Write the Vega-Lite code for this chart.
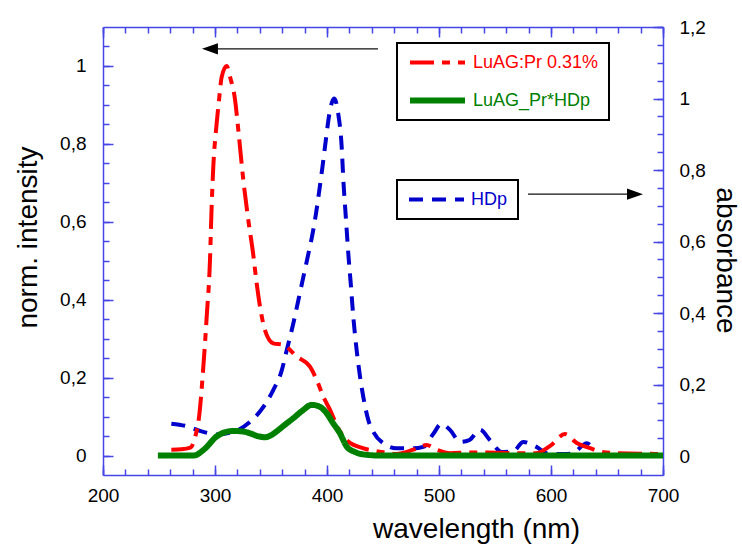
{
  "$schema": "https://vega.github.io/schema/vega-lite/v6.json",
  "width": 560,
  "height": 448,
  "autosize": "none",
  "padding": {"left": 103, "top": 27, "right": 79, "bottom": 69},
  "background": "white",
  "config": {
    "view": {"stroke": null},
    "font": "Liberation Sans",
    "axis": {
      "grid": false,
      "domainColor": "#4646e6",
      "tickColor": "#4646e6",
      "domainWidth": 1.5,
      "tickWidth": 1.5,
      "labelFont": "Liberation Sans",
      "labelFontSize": 19,
      "labelColor": "#000000",
      "titleFont": "Liberation Sans",
      "titleFontSize": 28,
      "titleFontWeight": "normal",
      "titleColor": "#000000",
      "labelOverlap": false,
      "labelFlush": false
    }
  },
  "datasets": {
    "emission": [
      {"wavelength": 261, "intensity": 0.015, "sample": "LuAG:Pr 0.31%"},
      {"wavelength": 270, "intensity": 0.016, "sample": "LuAG:Pr 0.31%"},
      {"wavelength": 278, "intensity": 0.02, "sample": "LuAG:Pr 0.31%"},
      {"wavelength": 282, "intensity": 0.045, "sample": "LuAG:Pr 0.31%"},
      {"wavelength": 286, "intensity": 0.105, "sample": "LuAG:Pr 0.31%"},
      {"wavelength": 289.6, "intensity": 0.228, "sample": "LuAG:Pr 0.31%"},
      {"wavelength": 292.6, "intensity": 0.357, "sample": "LuAG:Pr 0.31%"},
      {"wavelength": 295.5, "intensity": 0.5, "sample": "LuAG:Pr 0.31%"},
      {"wavelength": 297, "intensity": 0.639, "sample": "LuAG:Pr 0.31%"},
      {"wavelength": 298.5, "intensity": 0.742, "sample": "LuAG:Pr 0.31%"},
      {"wavelength": 301.5, "intensity": 0.853, "sample": "LuAG:Pr 0.31%"},
      {"wavelength": 303.6, "intensity": 0.913, "sample": "LuAG:Pr 0.31%"},
      {"wavelength": 306, "intensity": 0.972, "sample": "LuAG:Pr 0.31%"},
      {"wavelength": 310.4, "intensity": 1.0, "sample": "LuAG:Pr 0.31%"},
      {"wavelength": 313.4, "intensity": 0.972, "sample": "LuAG:Pr 0.31%"},
      {"wavelength": 317.9, "intensity": 0.913, "sample": "LuAG:Pr 0.31%"},
      {"wavelength": 320.8, "intensity": 0.836, "sample": "LuAG:Pr 0.31%"},
      {"wavelength": 325.3, "intensity": 0.707, "sample": "LuAG:Pr 0.31%"},
      {"wavelength": 329.7, "intensity": 0.605, "sample": "LuAG:Pr 0.31%"},
      {"wavelength": 334, "intensity": 0.519, "sample": "LuAG:Pr 0.31%"},
      {"wavelength": 337.2, "intensity": 0.442, "sample": "LuAG:Pr 0.31%"},
      {"wavelength": 340.2, "intensity": 0.382, "sample": "LuAG:Pr 0.31%"},
      {"wavelength": 344.6, "intensity": 0.322, "sample": "LuAG:Pr 0.31%"},
      {"wavelength": 352, "intensity": 0.288, "sample": "LuAG:Pr 0.31%"},
      {"wavelength": 361, "intensity": 0.284, "sample": "LuAG:Pr 0.31%"},
      {"wavelength": 373, "intensity": 0.254, "sample": "LuAG:Pr 0.31%"},
      {"wavelength": 384.8, "intensity": 0.228, "sample": "LuAG:Pr 0.31%"},
      {"wavelength": 390.8, "intensity": 0.194, "sample": "LuAG:Pr 0.31%"},
      {"wavelength": 396.7, "intensity": 0.151, "sample": "LuAG:Pr 0.31%"},
      {"wavelength": 402.7, "intensity": 0.117, "sample": "LuAG:Pr 0.31%"},
      {"wavelength": 410, "intensity": 0.07, "sample": "LuAG:Pr 0.31%"},
      {"wavelength": 419, "intensity": 0.036, "sample": "LuAG:Pr 0.31%"},
      {"wavelength": 432, "intensity": 0.019, "sample": "LuAG:Pr 0.31%"},
      {"wavelength": 447, "intensity": 0.01, "sample": "LuAG:Pr 0.31%"},
      {"wavelength": 462, "intensity": 0.004, "sample": "LuAG:Pr 0.31%"},
      {"wavelength": 477, "intensity": 0.015, "sample": "LuAG:Pr 0.31%"},
      {"wavelength": 489, "intensity": 0.027, "sample": "LuAG:Pr 0.31%"},
      {"wavelength": 498, "intensity": 0.015, "sample": "LuAG:Pr 0.31%"},
      {"wavelength": 510, "intensity": 0.006, "sample": "LuAG:Pr 0.31%"},
      {"wavelength": 528, "intensity": 0.008, "sample": "LuAG:Pr 0.31%"},
      {"wavelength": 543, "intensity": 0.008, "sample": "LuAG:Pr 0.31%"},
      {"wavelength": 569, "intensity": 0.006, "sample": "LuAG:Pr 0.31%"},
      {"wavelength": 587, "intensity": 0.006, "sample": "LuAG:Pr 0.31%"},
      {"wavelength": 599, "intensity": 0.024, "sample": "LuAG:Pr 0.31%"},
      {"wavelength": 612.5, "intensity": 0.055, "sample": "LuAG:Pr 0.31%"},
      {"wavelength": 623, "intensity": 0.032, "sample": "LuAG:Pr 0.31%"},
      {"wavelength": 635, "intensity": 0.019, "sample": "LuAG:Pr 0.31%"},
      {"wavelength": 644, "intensity": 0.01, "sample": "LuAG:Pr 0.31%"},
      {"wavelength": 659, "intensity": 0.006, "sample": "LuAG:Pr 0.31%"},
      {"wavelength": 700, "intensity": 0.004, "sample": "LuAG:Pr 0.31%"},
      {"wavelength": 249, "intensity": 0, "sample": "LuAG_Pr*HDp"},
      {"wavelength": 281, "intensity": 0, "sample": "LuAG_Pr*HDp"},
      {"wavelength": 290, "intensity": 0.015, "sample": "LuAG_Pr*HDp"},
      {"wavelength": 301.5, "intensity": 0.049, "sample": "LuAG_Pr*HDp"},
      {"wavelength": 309, "intensity": 0.06, "sample": "LuAG_Pr*HDp"},
      {"wavelength": 316.4, "intensity": 0.063, "sample": "LuAG_Pr*HDp"},
      {"wavelength": 324, "intensity": 0.062, "sample": "LuAG_Pr*HDp"},
      {"wavelength": 331.3, "intensity": 0.057, "sample": "LuAG_Pr*HDp"},
      {"wavelength": 338, "intensity": 0.05, "sample": "LuAG_Pr*HDp"},
      {"wavelength": 344.6, "intensity": 0.047, "sample": "LuAG_Pr*HDp"},
      {"wavelength": 350, "intensity": 0.052, "sample": "LuAG_Pr*HDp"},
      {"wavelength": 355, "intensity": 0.062, "sample": "LuAG_Pr*HDp"},
      {"wavelength": 362, "intensity": 0.078, "sample": "LuAG_Pr*HDp"},
      {"wavelength": 370, "intensity": 0.096, "sample": "LuAG_Pr*HDp"},
      {"wavelength": 378, "intensity": 0.115, "sample": "LuAG_Pr*HDp"},
      {"wavelength": 386.3, "intensity": 0.13, "sample": "LuAG_Pr*HDp"},
      {"wavelength": 393, "intensity": 0.126, "sample": "LuAG_Pr*HDp"},
      {"wavelength": 399.6, "intensity": 0.109, "sample": "LuAG_Pr*HDp"},
      {"wavelength": 405, "intensity": 0.085, "sample": "LuAG_Pr*HDp"},
      {"wavelength": 411.6, "intensity": 0.057, "sample": "LuAG_Pr*HDp"},
      {"wavelength": 417.6, "intensity": 0.023, "sample": "LuAG_Pr*HDp"},
      {"wavelength": 425, "intensity": 0.009, "sample": "LuAG_Pr*HDp"},
      {"wavelength": 432, "intensity": 0.003, "sample": "LuAG_Pr*HDp"},
      {"wavelength": 447, "intensity": 0, "sample": "LuAG_Pr*HDp"},
      {"wavelength": 700, "intensity": 0, "sample": "LuAG_Pr*HDp"}
    ],
    "absorption": [
      {"wavelength": 261, "absorbance": 0.091, "sample": "HDp"},
      {"wavelength": 274.7, "absorbance": 0.084, "sample": "HDp"},
      {"wavelength": 289.6, "absorbance": 0.068, "sample": "HDp"},
      {"wavelength": 301.5, "absorbance": 0.061, "sample": "HDp"},
      {"wavelength": 316.4, "absorbance": 0.068, "sample": "HDp"},
      {"wavelength": 331.3, "absorbance": 0.096, "sample": "HDp"},
      {"wavelength": 343.2, "absorbance": 0.138, "sample": "HDp"},
      {"wavelength": 352, "absorbance": 0.185, "sample": "HDp"},
      {"wavelength": 359.6, "absorbance": 0.24, "sample": "HDp"},
      {"wavelength": 364, "absorbance": 0.296, "sample": "HDp"},
      {"wavelength": 369.9, "absorbance": 0.371, "sample": "HDp"},
      {"wavelength": 374.4, "absorbance": 0.436, "sample": "HDp"},
      {"wavelength": 378.8, "absorbance": 0.5, "sample": "HDp"},
      {"wavelength": 383.3, "absorbance": 0.565, "sample": "HDp"},
      {"wavelength": 387, "absorbance": 0.62, "sample": "HDp"},
      {"wavelength": 390, "absorbance": 0.675, "sample": "HDp"},
      {"wavelength": 393, "absorbance": 0.74, "sample": "HDp"},
      {"wavelength": 396, "absorbance": 0.81, "sample": "HDp"},
      {"wavelength": 399, "absorbance": 0.885, "sample": "HDp"},
      {"wavelength": 402, "absorbance": 0.955, "sample": "HDp"},
      {"wavelength": 404.5, "absorbance": 0.99, "sample": "HDp"},
      {"wavelength": 406.5, "absorbance": 1.0, "sample": "HDp"},
      {"wavelength": 410, "absorbance": 0.958, "sample": "HDp"},
      {"wavelength": 413.1, "absorbance": 0.865, "sample": "HDp"},
      {"wavelength": 414.6, "absorbance": 0.772, "sample": "HDp"},
      {"wavelength": 417, "absorbance": 0.66, "sample": "HDp"},
      {"wavelength": 419, "absorbance": 0.567, "sample": "HDp"},
      {"wavelength": 421.2, "absorbance": 0.483, "sample": "HDp"},
      {"wavelength": 423.5, "absorbance": 0.389, "sample": "HDp"},
      {"wavelength": 426.5, "absorbance": 0.296, "sample": "HDp"},
      {"wavelength": 429.5, "absorbance": 0.222, "sample": "HDp"},
      {"wavelength": 432.4, "absorbance": 0.166, "sample": "HDp"},
      {"wavelength": 436.9, "absorbance": 0.101, "sample": "HDp"},
      {"wavelength": 441.4, "absorbance": 0.068, "sample": "HDp"},
      {"wavelength": 450.3, "absorbance": 0.036, "sample": "HDp"},
      {"wavelength": 462, "absorbance": 0.022, "sample": "HDp"},
      {"wavelength": 477, "absorbance": 0.022, "sample": "HDp"},
      {"wavelength": 486, "absorbance": 0.026, "sample": "HDp"},
      {"wavelength": 495, "absorbance": 0.063, "sample": "HDp"},
      {"wavelength": 502, "absorbance": 0.09, "sample": "HDp"},
      {"wavelength": 510, "absorbance": 0.073, "sample": "HDp"},
      {"wavelength": 518.8, "absorbance": 0.04, "sample": "HDp"},
      {"wavelength": 527, "absorbance": 0.045, "sample": "HDp"},
      {"wavelength": 536.6, "absorbance": 0.074, "sample": "HDp"},
      {"wavelength": 545.5, "absorbance": 0.045, "sample": "HDp"},
      {"wavelength": 556, "absorbance": 0.012, "sample": "HDp"},
      {"wavelength": 566.3, "absorbance": 0.014, "sample": "HDp"},
      {"wavelength": 575.3, "absorbance": 0.04, "sample": "HDp"},
      {"wavelength": 587, "absorbance": 0.026, "sample": "HDp"},
      {"wavelength": 597, "absorbance": 0.008, "sample": "HDp"},
      {"wavelength": 611, "absorbance": 0.006, "sample": "HDp"},
      {"wavelength": 619, "absorbance": 0.008, "sample": "HDp"},
      {"wavelength": 632, "absorbance": 0.036, "sample": "HDp"},
      {"wavelength": 639, "absorbance": 0.012, "sample": "HDp"}
    ],
    "leftArrow": [{"tail": 445.5, "base": 302.5, "head": 295.5, "level": 1.044}],
    "rightArrow": [{"tail": 579.5, "base": 668, "head": 675, "level": 0.7325}]
  },
  "layer": [
    {
      "data": {"name": "emission"},
      "mark": {"type": "point", "opacity": 0},
      "encoding": {
        "x": {
          "field": "wavelength", "type": "quantitative",
          "scale": {"domain": [200, 700], "nice": false, "zero": false},
          "axis": {
            "orient": "bottom", "title": null, "labels": false, "domain": false,
            "values": [200,220,240,260,280,300,320,340,360,380,400,420,440,460,480,500,520,540,560,580,600,620,640,660,680,700],
            "tickSize": -6
          }
        },
        "y": {
          "field": "intensity", "type": "quantitative",
          "scale": {"domain": [-0.05, 1.1], "nice": false, "zero": false},
          "axis": {
            "orient": "left", "title": null, "labels": false, "domain": false,
            "values": [0,0.05,0.1,0.15,0.2,0.25,0.3,0.35,0.4,0.45,0.5,0.55,0.6,0.65,0.7,0.75,0.8,0.85,0.9,0.95,1,1.05],
            "tickSize": -6
          }
        }
      }
    },
    {
      "data": {"name": "absorption"},
      "mark": {"type": "point", "opacity": 0},
      "encoding": {
        "x": {
          "field": "wavelength", "type": "quantitative",
          "scale": {"domain": [200, 700], "nice": false, "zero": false},
          "axis": {
            "orient": "top", "title": null, "labels": false, "domain": false,
            "values": [200,220,240,260,280,300,320,340,360,380,400,420,440,460,480,500,520,540,560,580,600,620,640,660,680,700],
            "tickSize": -6
          }
        },
        "y": {
          "field": "absorbance", "type": "quantitative",
          "scale": {"domain": [-0.0525, 1.2], "nice": false, "zero": false},
          "axis": {
            "orient": "right", "title": null, "labels": false, "domain": false,
            "values": [0,0.05,0.1,0.15,0.2,0.25,0.3,0.35,0.4,0.45,0.5,0.55,0.6,0.65,0.7,0.75,0.8,0.85,0.9,0.95,1,1.05,1.1,1.15,1.2],
            "tickSize": -6
          }
        }
      }
    },
    {
      "data": {"name": "absorption"},
      "mark": {"type": "line", "interpolate": "monotone", "strokeWidth": 4, "strokeCap": "butt"},
      "encoding": {
        "x": {
          "field": "wavelength", "type": "quantitative",
          "scale": {"domain": [200, 700], "nice": false, "zero": false},
          "axis": {
            "orient": "top", "title": null, "labels": false,
            "values": [200,300,400,500,600,700],
            "tickSize": -10
          }
        },
        "y": {
          "field": "absorbance", "type": "quantitative",
          "scale": {"domain": [-0.0525, 1.2], "nice": false, "zero": false},
          "axis": {
            "orient": "right", "title": "absorbance",
            "values": [0,0.2,0.4,0.6,0.8,1,1.2],
            "tickSize": -10,
            "labelExpr": "replace(format(datum.value, '~g'), '.', ',')",
            "labelPadding": 26,
            "titleAngle": 90, "titleX": 61, "titleY": 233, "titleAlign": "center", "titleBaseline": "middle"
          }
        },
        "color": {
          "field": "sample", "type": "nominal",
          "scale": {"domain": ["HDp"], "range": ["#0000cc"]},
          "legend": {
            "orient": "none", "legendX": 294, "legendY": 153, "title": null,
            "symbolType": "stroke", "symbolSize": 3025, "symbolStrokeWidth": 4,
            "labelFont": "Liberation Sans", "labelFontSize": 18, "labelOffset": 5, "labelLimit": 300,
            "padding": 10, "rowPadding": 19, "clipHeight": 19, "strokeColor": "#000000",
            "encode": {
              "legend": {"update": {"strokeWidth": {"value": 2}}},
              "labels": {"update": {"fill": {"value": "#0000cc"}}}
            }
          }
        },
        "strokeDash": {
          "field": "sample", "type": "nominal",
          "scale": {"domain": ["HDp"], "range": [[14, 9]]},
          "legend": {
            "orient": "none", "legendX": 294, "legendY": 153, "title": null,
            "symbolType": "stroke", "symbolSize": 3025, "symbolStrokeWidth": 4,
            "labelFont": "Liberation Sans", "labelFontSize": 18, "labelOffset": 5, "labelLimit": 300,
            "padding": 10, "rowPadding": 19, "clipHeight": 19, "strokeColor": "#000000",
            "encode": {
              "legend": {"update": {"strokeWidth": {"value": 2}}},
              "labels": {"update": {"fill": {"value": "#0000cc"}}}
            }
          }
        }
      }
    },
    {
      "data": {"name": "rightArrow"},
      "mark": {"type": "rule", "color": "#111111", "strokeWidth": 1.3},
      "encoding": {
        "x": {"field": "tail", "type": "quantitative", "scale": {"domain": [200, 700], "nice": false, "zero": false}, "axis": null},
        "x2": {"field": "base"},
        "y": {"field": "level", "type": "quantitative", "scale": {"domain": [-0.0525, 1.2], "nice": false, "zero": false}, "axis": null}
      }
    },
    {
      "data": {"name": "rightArrow"},
      "mark": {"type": "point", "shape": "M 1 0 L -1 -0.7 L -1 0.7 Z", "size": 256, "filled": true, "color": "#000000", "opacity": 1, "strokeWidth": 0},
      "encoding": {
        "x": {"field": "head", "type": "quantitative", "scale": {"domain": [200, 700], "nice": false, "zero": false}, "axis": null},
        "y": {"field": "level", "type": "quantitative", "scale": {"domain": [-0.0525, 1.2], "nice": false, "zero": false}, "axis": null}
      }
    },
    {
      "data": {"name": "emission"},
      "mark": {"type": "line", "interpolate": "monotone", "strokeCap": "butt"},
      "encoding": {
        "x": {
          "field": "wavelength", "type": "quantitative",
          "scale": {"domain": [200, 700], "nice": false, "zero": false},
          "axis": {
            "orient": "bottom", "title": "wavelength (nm)",
            "values": [200,300,400,500,600,700],
            "tickSize": -10,
            "labelPadding": 21,
            "titleX": 373, "titleY": 62, "titleAlign": "center", "titleBaseline": "alphabetic"
          }
        },
        "y": {
          "field": "intensity", "type": "quantitative",
          "scale": {"domain": [-0.05, 1.1], "nice": false, "zero": false},
          "axis": {
            "orient": "left", "title": "norm. intensity",
            "values": [0,0.2,0.4,0.6,0.8,1],
            "tickSize": -10,
            "labelExpr": "replace(format(datum.value, '~g'), '.', ',')",
            "labelPadding": 27,
            "titleAngle": -90, "titleX": -75, "titleY": 210, "titleAlign": "center", "titleBaseline": "middle"
          }
        },
        "color": {
          "field": "sample", "type": "nominal",
          "scale": {"domain": ["LuAG:Pr 0.31%", "LuAG_Pr*HDp"], "range": ["#ff0000", "#008000"]},
          "legend": {
            "orient": "none", "legendX": 294, "legendY": 16, "title": null,
            "symbolType": "stroke", "symbolSize": 3025, "symbolStrokeWidth": 4,
            "labelFont": "Liberation Sans", "labelFontSize": 18, "labelOffset": 5, "labelLimit": 300,
            "padding": 10, "rowPadding": 19, "clipHeight": 19, "strokeColor": "#000000",
            "encode": {
              "legend": {"update": {"strokeWidth": {"value": 2}}},
              "labels": {"update": {"fill": {"signal": "datum.value === 'LuAG:Pr 0.31%' ? '#ff0000' : '#008000'"}}},
              "symbols": {"update": {"strokeWidth": {"signal": "datum.value === 'LuAG_Pr*HDp' ? 6 : 4"}}}
            }
          }
        },
        "strokeDash": {
          "field": "sample", "type": "nominal",
          "scale": {"domain": ["LuAG:Pr 0.31%", "LuAG_Pr*HDp"], "range": [[24, 8, 8, 8], [1, 0]]},
          "legend": {
            "orient": "none", "legendX": 294, "legendY": 16, "title": null,
            "symbolType": "stroke", "symbolSize": 3025, "symbolStrokeWidth": 4,
            "labelFont": "Liberation Sans", "labelFontSize": 18, "labelOffset": 5, "labelLimit": 300,
            "padding": 10, "rowPadding": 19, "clipHeight": 19, "strokeColor": "#000000",
            "encode": {
              "legend": {"update": {"strokeWidth": {"value": 2}}},
              "labels": {"update": {"fill": {"signal": "datum.value === 'LuAG:Pr 0.31%' ? '#ff0000' : '#008000'"}}},
              "symbols": {"update": {"strokeWidth": {"signal": "datum.value === 'LuAG_Pr*HDp' ? 6 : 4"}}}
            }
          }
        },
        "strokeWidth": {
          "field": "sample", "type": "nominal",
          "scale": {"domain": ["LuAG:Pr 0.31%", "LuAG_Pr*HDp"], "range": [4, 6]},
          "legend": null
        }
      }
    },
    {
      "data": {"name": "leftArrow"},
      "mark": {"type": "rule", "color": "#111111", "strokeWidth": 1.3},
      "encoding": {
        "x": {"field": "tail", "type": "quantitative", "scale": {"domain": [200, 700], "nice": false, "zero": false}, "axis": null},
        "x2": {"field": "base"},
        "y": {"field": "level", "type": "quantitative", "scale": {"domain": [-0.05, 1.1], "nice": false, "zero": false}, "axis": null}
      }
    },
    {
      "data": {"name": "leftArrow"},
      "mark": {"type": "point", "shape": "M -1 0 L 1 -0.7 L 1 0.7 Z", "size": 256, "filled": true, "color": "#000000", "opacity": 1, "strokeWidth": 0},
      "encoding": {
        "x": {"field": "head", "type": "quantitative", "scale": {"domain": [200, 700], "nice": false, "zero": false}, "axis": null},
        "y": {"field": "level", "type": "quantitative", "scale": {"domain": [-0.05, 1.1], "nice": false, "zero": false}, "axis": null}
      }
    }
  ],
  "resolve": {"scale": {"x": "independent", "y": "independent", "color": "independent", "strokeDash": "independent", "strokeWidth": "independent"}}
}
